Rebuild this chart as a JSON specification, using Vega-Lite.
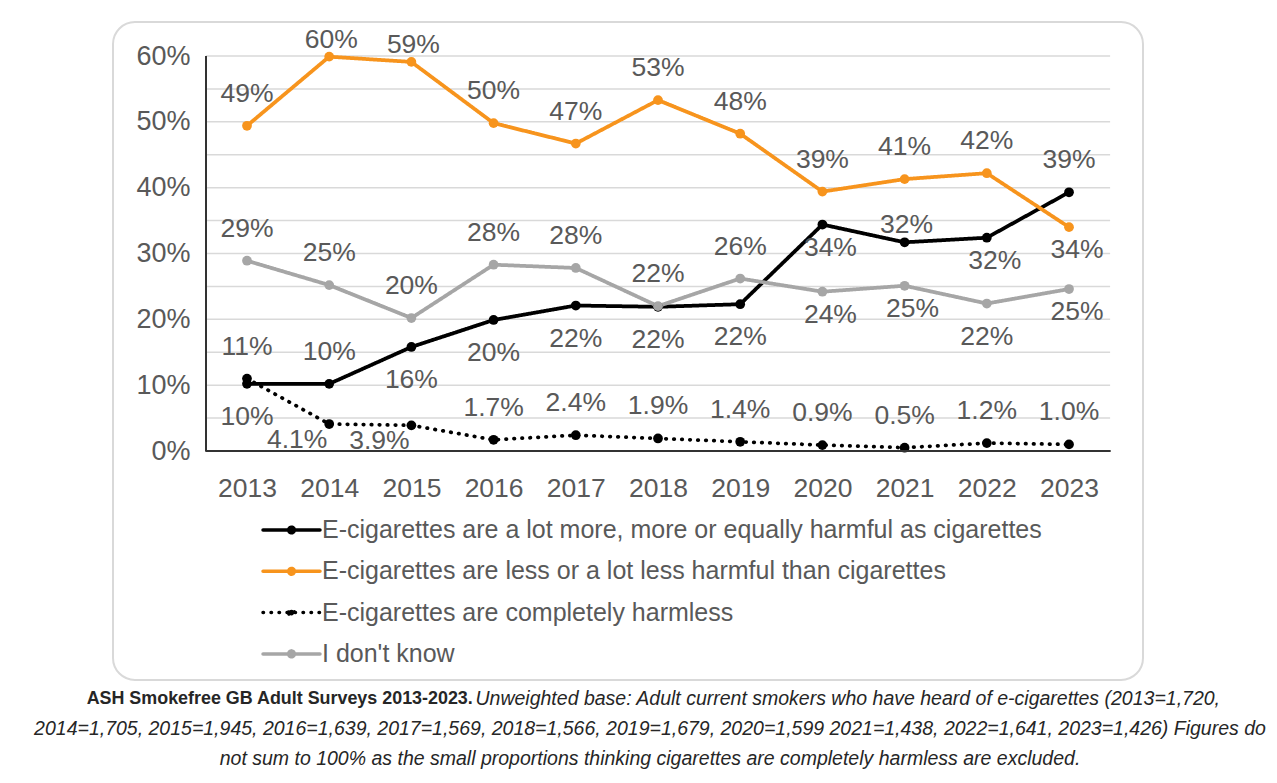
{
  "$schema": "https://vega.github.io/schema/vega-lite/v6.json",
  "autosize": {"type": "none"},
  "width": 1030,
  "height": 658,
  "padding": {"left": 113, "top": 22, "right": 134, "bottom": 103},
  "background": "white",
  "title": {
    "text": "ASH Smokefree GB Adult Surveys 2013-2023.\u00a0\u00a0\u00a0\u00a0\u00a0\u00a0\u00a0\u00a0\u00a0\u00a0\u00a0\u00a0\u00a0\u00a0\u00a0\u00a0\u00a0\u00a0\u00a0\u00a0\u00a0\u00a0\u00a0\u00a0\u00a0\u00a0\u00a0\u00a0\u00a0\u00a0\u00a0\u00a0\u00a0\u00a0\u00a0\u00a0\u00a0\u00a0\u00a0\u00a0\u00a0\u00a0\u00a0\u00a0\u00a0\u00a0\u00a0\u00a0\u00a0\u00a0\u00a0\u00a0\u00a0\u00a0\u00a0\u00a0\u00a0\u00a0\u00a0\u00a0\u00a0\u00a0\u00a0\u00a0\u00a0\u00a0\u00a0\u00a0\u00a0\u00a0\u00a0\u00a0\u00a0\u00a0\u00a0\u00a0\u00a0\u00a0\u00a0\u00a0\u00a0\u00a0\u00a0\u00a0\u00a0\u00a0\u00a0\u00a0\u00a0\u00a0\u00a0\u00a0\u00a0\u00a0\u00a0\u00a0\u00a0\u00a0\u00a0\u00a0\u00a0\u00a0\u00a0\u00a0\u00a0\u00a0\u00a0\u00a0\u00a0\u00a0\u00a0\u00a0\u00a0\u00a0\u00a0\u00a0\u00a0\u00a0\u00a0\u00a0\u00a0\u00a0\u00a0\u00a0\u00a0\u00a0\u00a0\u00a0\u00a0\u00a0\u00a0\u00a0\u00a0\u00a0\u00a0\u00a0\u00a0\u00a0\u00a0\u00a0\u00a0\u00a0\u00a0\u00a0\u00a0\u00a0\u00a0\u00a0\u00a0\u200b",
    "subtitle": [
      "\u200b\u00a0\u00a0\u00a0\u00a0\u00a0\u00a0\u00a0\u00a0\u00a0\u00a0\u00a0\u00a0\u00a0\u00a0\u00a0\u00a0\u00a0\u00a0\u00a0\u00a0\u00a0\u00a0\u00a0\u00a0\u00a0\u00a0\u00a0\u00a0\u00a0\u00a0\u00a0\u00a0\u00a0\u00a0\u00a0\u00a0\u00a0\u00a0\u00a0\u00a0\u00a0\u00a0\u00a0\u00a0\u00a0\u00a0\u00a0\u00a0\u00a0\u00a0\u00a0\u00a0\u00a0\u00a0\u00a0\u00a0\u00a0\u00a0\u00a0\u00a0\u00a0\u00a0\u00a0\u00a0\u00a0\u00a0\u00a0\u00a0\u00a0\u00a0\u00a0\u00a0\u00a0Unweighted base: Adult current smokers who have heard of e-cigarettes (2013=1,720,",
      "2014=1,705, 2015=1,945, 2016=1,639, 2017=1,569, 2018=1,566, 2019=1,679, 2020=1,599 2021=1,438, 2022=1,641, 2023=1,426) Figures do",
      "not sum to 100% as the small proportions thinking cigarettes are completely harmless are excluded."
    ],
    "orient": "bottom",
    "anchor": "middle",
    "frame": "group",
    "dx": 22,
    "offset": 10,
    "font": "Liberation Sans",
    "fontSize": 17.9,
    "fontWeight": "bold",
    "color": "#262626",
    "subtitleFont": "Liberation Sans",
    "subtitleFontSize": 19.5,
    "subtitleFontStyle": "italic",
    "subtitleColor": "#262626",
    "subtitleLineHeight": 30,
    "subtitlePadding": -18
  },
  "config": {
    "view": {"stroke": "#d9d9d9", "strokeWidth": 2, "cornerRadius": 22, "fill": "white"},
    "font": "Liberation Sans",
    "legend": {
      "padding": 0,
      "labelFont": "Liberation Sans",
      "labelFontSize": 25,
      "labelColor": "#595959",
      "labelLimit": 0
    }
  },
  "datasets": {
    "s": [
      {"year": 2013, "series": "E-cigarettes are a lot more, more or equally harmful as cigarettes", "v": 10.2, "label": "10%", "pos": "below"},
      {"year": 2014, "series": "E-cigarettes are a lot more, more or equally harmful as cigarettes", "v": 10.2, "label": "10%", "pos": "above"},
      {"year": 2015, "series": "E-cigarettes are a lot more, more or equally harmful as cigarettes", "v": 15.8, "label": "16%", "pos": "below"},
      {"year": 2016, "series": "E-cigarettes are a lot more, more or equally harmful as cigarettes", "v": 19.9, "label": "20%", "pos": "below"},
      {"year": 2017, "series": "E-cigarettes are a lot more, more or equally harmful as cigarettes", "v": 22.1, "label": "22%", "pos": "below"},
      {"year": 2018, "series": "E-cigarettes are a lot more, more or equally harmful as cigarettes", "v": 21.9, "label": "22%", "pos": "below"},
      {"year": 2019, "series": "E-cigarettes are a lot more, more or equally harmful as cigarettes", "v": 22.3, "label": "22%", "pos": "below"},
      {"year": 2020, "series": "E-cigarettes are a lot more, more or equally harmful as cigarettes", "v": 34.4, "label": "34%", "pos": "below-near"},
      {"year": 2021, "series": "E-cigarettes are a lot more, more or equally harmful as cigarettes", "v": 31.7, "label": "32%", "pos": "above-near"},
      {"year": 2022, "series": "E-cigarettes are a lot more, more or equally harmful as cigarettes", "v": 32.4, "label": "32%", "pos": "below-near"},
      {"year": 2023, "series": "E-cigarettes are a lot more, more or equally harmful as cigarettes", "v": 39.3, "label": "39%", "pos": "above"},
      {"year": 2013, "series": "E-cigarettes are less or a lot less harmful than cigarettes", "v": 49.4, "label": "49%", "pos": "above"},
      {"year": 2014, "series": "E-cigarettes are less or a lot less harmful than cigarettes", "v": 59.9, "label": "60%", "pos": "above-near"},
      {"year": 2015, "series": "E-cigarettes are less or a lot less harmful than cigarettes", "v": 59.1, "label": "59%", "pos": "above-near"},
      {"year": 2016, "series": "E-cigarettes are less or a lot less harmful than cigarettes", "v": 49.8, "label": "50%", "pos": "above"},
      {"year": 2017, "series": "E-cigarettes are less or a lot less harmful than cigarettes", "v": 46.7, "label": "47%", "pos": "above"},
      {"year": 2018, "series": "E-cigarettes are less or a lot less harmful than cigarettes", "v": 53.3, "label": "53%", "pos": "above"},
      {"year": 2019, "series": "E-cigarettes are less or a lot less harmful than cigarettes", "v": 48.2, "label": "48%", "pos": "above"},
      {"year": 2020, "series": "E-cigarettes are less or a lot less harmful than cigarettes", "v": 39.4, "label": "39%", "pos": "above"},
      {"year": 2021, "series": "E-cigarettes are less or a lot less harmful than cigarettes", "v": 41.3, "label": "41%", "pos": "above"},
      {"year": 2022, "series": "E-cigarettes are less or a lot less harmful than cigarettes", "v": 42.2, "label": "42%", "pos": "above"},
      {"year": 2023, "series": "E-cigarettes are less or a lot less harmful than cigarettes", "v": 34.0, "label": "34%", "pos": "below-near"},
      {"year": 2013, "series": "E-cigarettes are completely harmless", "v": 11.0, "label": "11%", "pos": "above"},
      {"year": 2014, "series": "E-cigarettes are completely harmless", "v": 4.1, "label": "4.1%", "pos": "below-left"},
      {"year": 2015, "series": "E-cigarettes are completely harmless", "v": 3.9, "label": "3.9%", "pos": "below-left"},
      {"year": 2016, "series": "E-cigarettes are completely harmless", "v": 1.7, "label": "1.7%", "pos": "above"},
      {"year": 2017, "series": "E-cigarettes are completely harmless", "v": 2.4, "label": "2.4%", "pos": "above"},
      {"year": 2018, "series": "E-cigarettes are completely harmless", "v": 1.9, "label": "1.9%", "pos": "above"},
      {"year": 2019, "series": "E-cigarettes are completely harmless", "v": 1.4, "label": "1.4%", "pos": "above"},
      {"year": 2020, "series": "E-cigarettes are completely harmless", "v": 0.9, "label": "0.9%", "pos": "above"},
      {"year": 2021, "series": "E-cigarettes are completely harmless", "v": 0.5, "label": "0.5%", "pos": "above"},
      {"year": 2022, "series": "E-cigarettes are completely harmless", "v": 1.2, "label": "1.2%", "pos": "above"},
      {"year": 2023, "series": "E-cigarettes are completely harmless", "v": 1.0, "label": "1.0%", "pos": "above"},
      {"year": 2013, "series": "I don't know", "v": 28.9, "label": "29%", "pos": "above"},
      {"year": 2014, "series": "I don't know", "v": 25.2, "label": "25%", "pos": "above"},
      {"year": 2015, "series": "I don't know", "v": 20.2, "label": "20%", "pos": "above"},
      {"year": 2016, "series": "I don't know", "v": 28.3, "label": "28%", "pos": "above"},
      {"year": 2017, "series": "I don't know", "v": 27.8, "label": "28%", "pos": "above"},
      {"year": 2018, "series": "I don't know", "v": 22.0, "label": "22%", "pos": "above"},
      {"year": 2019, "series": "I don't know", "v": 26.2, "label": "26%", "pos": "above"},
      {"year": 2020, "series": "I don't know", "v": 24.2, "label": "24%", "pos": "below-near"},
      {"year": 2021, "series": "I don't know", "v": 25.1, "label": "25%", "pos": "below-near"},
      {"year": 2022, "series": "I don't know", "v": 22.4, "label": "22%", "pos": "below"},
      {"year": 2023, "series": "I don't know", "v": 24.6, "label": "25%", "pos": "below-near"}
    ],
    "grid": [{"g": 5}, {"g": 10}, {"g": 15}, {"g": 20}, {"g": 25}, {"g": 30}, {"g": 35}, {"g": 40}, {"g": 45}, {"g": 50}, {"g": 55}, {"g": 60}]
  },
  "layer": [
    {
      "data": {"name": "grid"},
      "mark": {"type": "rule", "color": "#d9d9d9", "strokeWidth": 1.5},
      "encoding": {
        "y": {
          "field": "g", "type": "quantitative",
          "scale": {"domain": [-34.785, 65.165], "nice": false, "zero": false},
          "axis": {"values": [0, 10, 20, 30, 40, 50, 60], "labelExpr": "datum.value + '%'", "title": null, "orient": "left", "offset": -93, "labelPadding": 16, "ticks": false, "domain": false, "grid": false, "labelFontSize": 27, "labelColor": "#595959", "labelFont": "Liberation Sans"}
        },
        "x": {"datum": 2012.5, "type": "quantitative", "scale": {"domain": [2011.37, 2023.9], "nice": false, "zero": false}},
        "x2": {"datum": 2023.5}
      }
    },
    {
      "data": {"name": "s"},
      "mark": {"type": "line", "strokeWidth": 3.75, "strokeCap": "round", "strokeJoin": "round"},
      "encoding": {
        "x": {
          "field": "year", "type": "quantitative",
          "axis": {"values": [2013, 2014, 2015, 2016, 2017, 2018, 2019, 2020, 2021, 2022, 2023], "format": "d", "title": null, "orient": "bottom", "offset": -229, "labelPadding": 24, "ticks": false, "domain": false, "grid": false, "labelFontSize": 26.5, "labelColor": "#595959", "labelFont": "Liberation Sans", "labelFlush": false}
        },
        "y": {
          "field": "v", "type": "quantitative",
          "axis": {"values": [0, 10, 20, 30, 40, 50, 60], "labelExpr": "datum.value + '%'", "title": null, "orient": "left", "offset": -93, "labelPadding": 16, "ticks": false, "domain": false, "grid": false, "labelFontSize": 27, "labelColor": "#595959", "labelFont": "Liberation Sans"}
        },
        "color": {
          "field": "series", "type": "nominal",
          "scale": {"domain": ["E-cigarettes are a lot more, more or equally harmful as cigarettes", "E-cigarettes are less or a lot less harmful than cigarettes", "E-cigarettes are completely harmless", "I don't know"], "range": ["#000000", "#F7941D", "#000000", "#A6A6A6"]},
          "legend": {
            "title": null, "orient": "none", "legendX": 162.5, "legendY": 492, "direction": "vertical",
            "symbolType": "M-2,0L2,0M-0.2,0A0.2,0.2 0 1,1 0.2,0A0.2,0.2 0 1,1 -0.2,0",
            "symbolSize": 812, "symbolStrokeWidth": 3.5, "rowPadding": 12.3, "labelOffset": 14.5,
            "encode": {"symbols": {"update": {"fill": {"value": {"expr": "scale('color', datum.value)"}}, "fillOpacity": {"value": 1}, "strokeCap": {"value": "round"}}}}
          }
        },
        "strokeDash": {
          "field": "series", "type": "nominal",
          "scale": {"domain": ["E-cigarettes are a lot more, more or equally harmful as cigarettes", "E-cigarettes are less or a lot less harmful than cigarettes", "E-cigarettes are completely harmless", "I don't know"], "range": [[1, 0], [1, 0], [0.5, 7.5], [1, 0]]}
        }
      }
    },
    {
      "data": {"name": "s"},
      "mark": {"type": "circle", "size": 95, "opacity": 1},
      "encoding": {
        "x": {"field": "year", "type": "quantitative"},
        "y": {"field": "v", "type": "quantitative"},
        "color": {"field": "series", "type": "nominal", "legend": null}
      }
    },
    {
      "data": {"name": "grid"},
      "mark": {"type": "rule", "color": "#333333", "strokeWidth": 1.5},
      "encoding": {
        "x": {"datum": 2012.5, "type": "quantitative"},
        "y": {"datum": 0, "type": "quantitative"},
        "y2": {"datum": 60}
      }
    },
    {
      "data": {"name": "grid"},
      "mark": {"type": "rule", "color": "#333333", "strokeWidth": 1.5},
      "encoding": {
        "y": {"datum": 0, "type": "quantitative"},
        "x": {"datum": 2012.5, "type": "quantitative"},
        "x2": {"datum": 2023.5}
      }
    },
    {
      "data": {"name": "s"},
      "transform": [{"filter": "datum.pos == 'above'"}],
      "mark": {"type": "text", "fontSize": 26.5, "color": "#595959", "font": "Liberation Sans", "baseline": "middle", "align": "center", "dy": -32},
      "encoding": {"x": {"field": "year", "type": "quantitative"}, "y": {"field": "v", "type": "quantitative"}, "text": {"field": "label"}}
    },
    {
      "data": {"name": "s"},
      "transform": [{"filter": "datum.pos == 'above-near'"}],
      "mark": {"type": "text", "fontSize": 26.5, "color": "#595959", "font": "Liberation Sans", "baseline": "middle", "align": "center", "dy": -17, "dx": 2},
      "encoding": {"x": {"field": "year", "type": "quantitative"}, "y": {"field": "v", "type": "quantitative"}, "text": {"field": "label"}}
    },
    {
      "data": {"name": "s"},
      "transform": [{"filter": "datum.pos == 'below'"}],
      "mark": {"type": "text", "fontSize": 26.5, "color": "#595959", "font": "Liberation Sans", "baseline": "middle", "align": "center", "dy": 33},
      "encoding": {"x": {"field": "year", "type": "quantitative"}, "y": {"field": "v", "type": "quantitative"}, "text": {"field": "label"}}
    },
    {
      "data": {"name": "s"},
      "transform": [{"filter": "datum.pos == 'below-near'"}],
      "mark": {"type": "text", "fontSize": 26.5, "color": "#595959", "font": "Liberation Sans", "baseline": "middle", "align": "center", "dy": 23, "dx": 8},
      "encoding": {"x": {"field": "year", "type": "quantitative"}, "y": {"field": "v", "type": "quantitative"}, "text": {"field": "label"}}
    },
    {
      "data": {"name": "s"},
      "transform": [{"filter": "datum.pos == 'below-left'"}],
      "mark": {"type": "text", "fontSize": 26.5, "color": "#595959", "font": "Liberation Sans", "baseline": "middle", "align": "center", "dy": 16, "dx": -32},
      "encoding": {"x": {"field": "year", "type": "quantitative"}, "y": {"field": "v", "type": "quantitative"}, "text": {"field": "label"}}
    }
  ]
}
